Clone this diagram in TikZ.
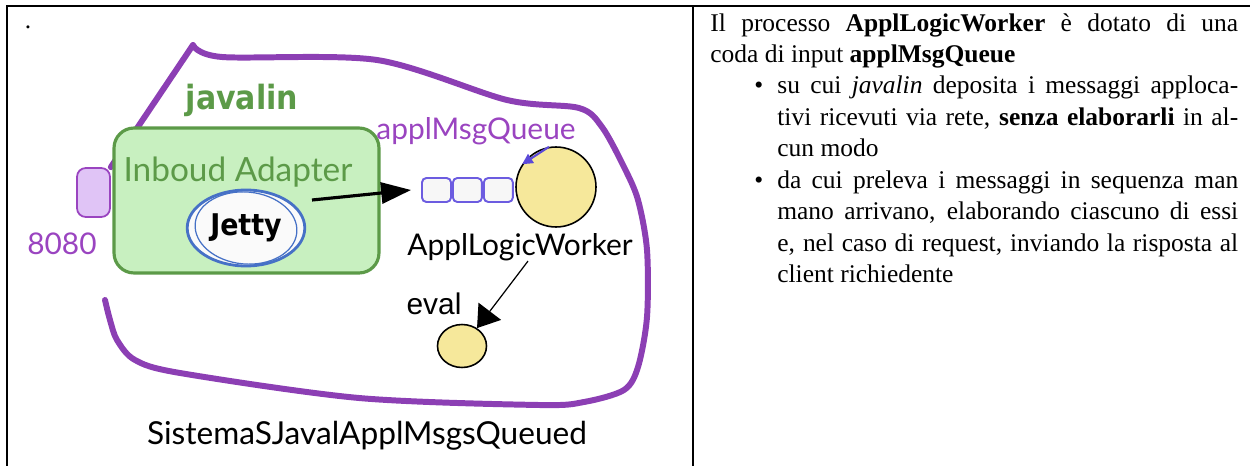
\documentclass[tikz,border=0pt]{standalone}
\usepackage{fontspec}
\usepackage{enumitem}
\usepackage{xcolor}
\usetikzlibrary{positioning,arrows.meta,shapes.geometric}

\setmainfont{Liberation Serif}
\newfontfamily\handfont{Lato}
\newfontfamily\condfont{DejaVu Sans Condensed}
\newfontfamily\helvfont{Liberation Sans}

\definecolor{sysviolet}{HTML}{8C3FB4}
\definecolor{txtviolet}{HTML}{9A44C0}
\definecolor{adgreen}{HTML}{5C9A48}
\definecolor{adfill}{HTML}{C8F0C0}
\definecolor{jblue}{HTML}{4671C6}
\definecolor{qborder}{HTML}{6C5CE0}
\definecolor{wkfill}{HTML}{F6E89B}
\definecolor{portfill}{HTML}{E0C4F6}
\definecolor{loopblue}{HTML}{5C4AD8}

\tikzset{
  hand/.style={font=\handfont\fontsize{17}{20}\selectfont, inner sep=0pt},
  qslot/.style={rectangle, rounded corners=2.5pt, draw=qborder, line width=1.1pt,
    fill=black!3, minimum width=0.58cm, minimum height=0.48cm, inner sep=0pt},
  worker/.style={circle, draw=black, line width=0.9pt, fill=wkfill, inner sep=0pt},
  flow/.style={black, line width=1.8pt, -{Triangle[length=17pt,width=12pt]}},
}

\begin{document}
\begin{tikzpicture}[x=0.02cm, y=-0.02cm]
\useasboundingbox (0,0) rectangle (1250,466);

% cell frame
\draw[line width=1pt] (7,466) -- (7,6) -- (1250,6);
\draw[line width=1pt] (693,6) -- (693,466);

\node[anchor=base, inner sep=0pt, font=\fontsize{14.5}{17}\selectfont] (dot) at (28,29) {.};

% port and system boundary
\node[rectangle, rounded corners=5pt, draw=txtviolet, line width=1pt, fill=portfill,
  minimum width=0.66cm, minimum height=0.98cm, inner sep=0pt] (port) at (93.5,192.5) {};
\node[hand, text=txtviolet] (portlab) at (62,244) {8080};

\draw[sysviolet, line width=3.4pt, line cap=round, line join=round]
  (port.north east) -- (193,45)
  plot[smooth, tension=0.5] coordinates {(193,45) (222,57) (377,60) (507,100) (579,108) (602,127)
    (624,167) (638,200) (647,250) (647,317) (638,367) (624,390) (584,402) (539,405)
    (359,398) (180,373) (135,360) (117,340) (110,320) (105,300)};

% javalin
\node[font=\condfont\bfseries\fontsize{19}{21}\selectfont, text=adgreen, inner sep=0pt] (javalin) at (242,100) {javalin};
\node[rectangle, rounded corners=0.4cm, draw=adgreen, line width=1.8pt, fill=adfill,
  minimum width=5.3cm, minimum height=2.9cm] (inbound) at (246.5,200.5) {};
\node[hand, font=\handfont\fontsize{19}{22}\selectfont, text=adgreen] (inlab) at (238,172) {Inboud Adapter};

\node[ellipse, draw=jblue, line width=1.6pt, fill=black!2, minimum width=2.12cm, minimum height=1.52cm,
  font=\condfont\bfseries\fontsize{17}{19}\selectfont] (jetty) at (246,228) {Jetty};
\draw[jblue, line width=0.7pt] (jetty.center) ellipse [x radius=1.02cm, y radius=0.72cm, rotate=-5];

% queue and worker
\node[qslot] (q1) at (436.5,190) {};
\node[qslot, right=0pt of q1] (q2) {};
\node[qslot, right=0pt of q2] (q3) {};
\node[hand, text=txtviolet] (qlab) at (476,131) {applMsgQueue};

\node[worker, minimum size=1.6cm] (wrk) at (556,187) {};
\draw[loopblue, line width=1.2pt, -{Triangle[length=6pt,width=6pt]}] (wrk.100) -- (wrk.146);
\node[hand] (wlab) at (520,247) {ApplLogicWorker};

\coordinate (jout) at (312,200);
\draw[flow] (jout) -- ([xshift=-0.2cm]q1.west);

% eval
\node[worker, ellipse, minimum width=0.98cm, minimum height=0.86cm] (ev) at (462,346) {};
\node[font=\helvfont\fontsize{17}{20}\selectfont, inner sep=0pt] (evlab) at (434,304) {eval};
\draw[black, line width=0.7pt, -{Triangle[length=12pt,width=16pt]}] ([xshift=0.16cm]wlab.south) -- (ev.50);

\node[hand, font=\handfont\fontsize{18}{21}\selectfont] (syslab) at (367,436) {SistemaSJavalApplMsgsQueued};

% description
\node[anchor=north west, inner sep=0pt, text width=10.56cm, align=justify,
  font=\fontsize{14.5}{17.9}\selectfont] (desc) at (710,13) {
Il processo \textbf{ApplLogicWorker} è dotato di una\linebreak
coda di input \textbf{applMsgQueue}
\begin{itemize}[leftmargin=1.34cm, labelsep=0.28cm, topsep=0pt, partopsep=0pt, itemsep=0pt, parsep=0pt]
\item su cui \textit{javalin} deposita i messaggi apploca-\linebreak
tivi ricevuti via rete, \textbf{senza elaborarli} in al-\linebreak
cun modo
\item da cui preleva i messaggi in sequenza man\linebreak
mano arrivano, elaborando ciascuno di essi\linebreak
e, nel caso di request, inviando la risposta al\linebreak
client richiedente
\end{itemize}
};
\end{tikzpicture}
\end{document}
